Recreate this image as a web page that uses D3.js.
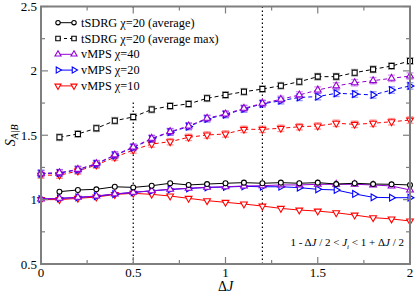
<!DOCTYPE html>
<html>
<head>
<meta charset="utf-8">
<script src="https://cdn.jsdelivr.net/npm/d3@7"></script>
<style>
    body { margin: 0; background: #fff; }
    svg { display: block; }
    text { font-family: 'Liberation Serif', 'DejaVu Serif', serif; }
</style>
</head>
<body>
<div id="chart"></div>
<script>
//
// DATA
//
const deltaJ = [0, 0.1, 0.2, 0.3, 0.4, 0.5, 0.6, 0.7, 0.8, 0.9, 1.0,
    1.1, 1.2, 1.3, 1.4, 1.5, 1.6, 1.7, 1.8, 1.9, 2.0]

// tSDRG has no point at deltaJ = 0
const tsdrgAvg = [null, 1.062, 1.075, 1.08, 1.10, 1.095, 1.108, 1.127, 1.114, 1.121, 1.127,
    1.132, 1.127, 1.132, 1.127, 1.132, 1.121, 1.127, 1.121, 1.119, 1.114]
const tsdrgMax = [null, 1.484, 1.51, 1.554, 1.613, 1.642, 1.70, 1.727, 1.743, 1.787, 1.813,
    1.838, 1.859, 1.885, 1.916, 1.955, 1.955, 1.986, 2.012, 2.038, 2.077]

const vmps40 = [1.005, 1.01, 1.018, 1.028, 1.044, 1.057, 1.069, 1.08, 1.088, 1.096, 1.10,
    1.106, 1.108, 1.114, 1.114, 1.119, 1.119, 1.119, 1.114, 1.106, 1.075]
const vmps40Max = [1.204, 1.209, 1.235, 1.28, 1.347, 1.408, 1.476, 1.528, 1.572, 1.632, 1.665,
    1.709, 1.748, 1.779, 1.813, 1.851, 1.883, 1.908, 1.924, 1.942, 1.96]

const vmps20 = [1.004, 1.009, 1.017, 1.027, 1.043, 1.056, 1.068, 1.079, 1.087, 1.094, 1.098,
    1.103, 1.10, 1.10, 1.093, 1.08, 1.075, 1.044, 1.018, 1.015, 1.015]
const vmps20Max = [1.202, 1.206, 1.232, 1.277, 1.344, 1.404, 1.472, 1.524, 1.567, 1.627, 1.66,
    1.704, 1.744, 1.768, 1.794, 1.80, 1.826, 1.82, 1.813, 1.851, 1.883]

const vmps10 = [1.0, 1.0, 1.01, 1.02, 1.04, 1.049, 1.041, 1.028, 1.01, 0.992, 0.979,
    0.966, 0.95, 0.932, 0.919, 0.911, 0.898, 0.88, 0.86, 0.85, 0.834]
const vmps10Max = [1.19, 1.19, 1.222, 1.269, 1.329, 1.385, 1.432, 1.45, 1.484, 1.502, 1.51,
    1.546, 1.546, 1.554, 1.566, 1.572, 1.593, 1.585, 1.593, 1.605, 1.618]

// half height of the error bars on the "max" curves
const errMax = 0.025

const legendLabels = ['tSDRG \u03c7=20 (average)', 'tSDRG \u03c7=20 (average max)',
    'vMPS \u03c7=40', 'vMPS \u03c7=20', 'vMPS \u03c7=10']

const xTicks = [0, 0.5, 1, 1.5, 2]
const yTicks = [0.5, 1, 1.5, 2, 2.5]
const markerLines = [0.5, 1.2]

//
// GLOBALS
//
const width = 415
const height = 294
const margin = { top: 6.5, right: 5, bottom: 30, left: 41 }
const frameColor = '#7f7f7f'

const series = [
    { name: legendLabels[0], color: '#000', shape: 'circle' },
    { name: legendLabels[1], color: '#000', shape: 'square', dashed: true },
    { name: legendLabels[2], color: '#9400d3', shape: 'up' },
    { name: legendLabels[3], color: '#0000ff', shape: 'right' },
    { name: legendLabels[4], color: '#ff0000', shape: 'down' }
]

const x = d3.scaleLinear().domain([0, 2]).range([margin.left, width - margin.right])
const y = d3.scaleLinear().domain([0.5, 2.5]).range([height - margin.bottom, margin.top])

const svg = d3.select('#chart')
    .append('svg')
    .attr('width', width)
    .attr('height', height)

// symbol path for a given shape (k scales the area)
const symbolPath = (shape, k = 1) => {
    if (shape === 'circle') return d3.symbol(d3.symbolCircle, 19 * k)()
    if (shape === 'square') return d3.symbol(d3.symbolSquare, 25 * k)()
    return d3.symbol(d3.symbolTriangle, 20 * k)()
}
const rotation = { up: 0, right: 90, down: 180 }

const drawMarkers = (group, pts, shape, color) => {
    group.selectAll(null)
        .data(pts)
        .join('path')
        .attr('d', symbolPath(shape))
        .attr('transform', d => `translate(${x(d[0])},${y(d[1])}) rotate(${rotation[shape] || 0})`)
        .attr('fill', '#fff')
        .attr('stroke', color)
        .attr('stroke-width', 1.1)
}

const pointsOf = vals => deltaJ.map((d, i) => [d, vals[i]]).filter(p => p[1] != null)

const line = d3.line().x(d => x(d[0])).y(d => y(d[1]))

const drawCurve = (vals, color, shape, dashed, err) => {
    const g = svg.append('g')
    const pts = pointsOf(vals)
    if (err) {
        // light error bars behind the curve
        const eb = g.append('g').attr('stroke', color).attr('stroke-opacity', 0.4).attr('stroke-width', 1.3)
        pts.forEach(p => {
            const y0 = y(p[1] - err)
            const y1 = y(p[1] + err)
            const cx = x(p[0])
            eb.append('line').attr('x1', cx).attr('x2', cx).attr('y1', y0).attr('y2', y1)
            eb.append('line').attr('x1', cx - 3.5).attr('x2', cx + 3.5).attr('y1', y0).attr('y2', y0)
            eb.append('line').attr('x1', cx - 3.5).attr('x2', cx + 3.5).attr('y1', y1).attr('y2', y1)
        })
    }
    g.append('path')
        .attr('d', line(pts))
        .attr('fill', 'none')
        .attr('stroke', color)
        .attr('stroke-width', 1)
        .attr('stroke-dasharray', dashed ? '4,3' : null)
    drawMarkers(g, pts, shape, color)
}

// 1) vertical dotted guides
markerLines.forEach(v => {
    svg.append('line')
        .attr('x1', x(v)).attr('x2', x(v))
        .attr('y1', y(2.5)).attr('y2', y(0.5))
        .attr('stroke', '#000')
        .attr('stroke-width', 1.2)
        .attr('stroke-dasharray', '1.5,2.5')
})

// 2) opaque legend background (hides the dotted guide behind it, curves stay on top)
svg.append('rect')
    .attr('x', 46).attr('y', 8)
    .attr('width', 194).attr('height', 92)
    .attr('fill', '#fff')

// 3) curves, drawn from the last legend entry to the first
drawCurve(vmps10Max, '#ff0000', 'down', true, errMax)
drawCurve(vmps20Max, '#0000ff', 'right', true, errMax)
drawCurve(vmps40Max, '#9400d3', 'up', true, errMax)
drawCurve(tsdrgMax, '#000', 'square', true, errMax)
drawCurve(vmps10, '#ff0000', 'down', false)
drawCurve(vmps20, '#0000ff', 'right', false)
drawCurve(vmps40, '#9400d3', 'up', false)
drawCurve(tsdrgAvg, '#000', 'circle', false)

// 4) frame and ticks on all four sides
const frame = svg.append('g').attr('stroke', frameColor)
const minorX = d3.range(0, 2.001, 0.25)
const minorY = d3.range(0.5, 2.501, 0.25)
minorX.forEach(v => {
    const len = xTicks.includes(v) ? 7 : 4
    frame.append('line').attr('x1', x(v)).attr('x2', x(v)).attr('y1', y(0.5)).attr('y2', y(0.5) - len)
    frame.append('line').attr('x1', x(v)).attr('x2', x(v)).attr('y1', y(2.5)).attr('y2', y(2.5) + len)
})
minorY.forEach(v => {
    const len = yTicks.includes(v) ? 7 : 4
    frame.append('line').attr('x1', x(0)).attr('x2', x(0) + len).attr('y1', y(v)).attr('y2', y(v))
    frame.append('line').attr('x1', x(2)).attr('x2', x(2) - len).attr('y1', y(v)).attr('y2', y(v))
})
frame.selectAll('line').attr('stroke-width', 1.2)
frame.append('rect')
    .attr('x', x(0)).attr('y', y(2.5))
    .attr('width', x(2) - x(0)).attr('height', y(0.5) - y(2.5))
    .attr('fill', 'none')
    .attr('stroke-width', 2)

// 5) tick labels
svg.append('g')
    .selectAll('text')
    .data(xTicks)
    .join('text')
    .attr('x', d => x(d))
    .attr('y', height - margin.bottom + 13)
    .attr('text-anchor', 'middle')
    .style('font-size', '13px')
    .text(d => d)
svg.append('g')
    .selectAll('text')
    .data(yTicks)
    .join('text')
    .attr('x', margin.left - 4)
    .attr('y', d => y(d) + 4.5)
    .attr('text-anchor', 'end')
    .style('font-size', '13px')
    .text(d => d)

// 6) axis titles
const xTitle = svg.append('text')
    .attr('x', x(1))
    .attr('y', height - 3)
    .attr('text-anchor', 'middle')
    .style('font-size', '14px')
xTitle.append('tspan').text('\u0394')
xTitle.append('tspan').style('font-style', 'italic').text('J')

const yTitle = svg.append('text')
    .attr('transform', `translate(15,${y(1.5)}) rotate(-90)`)
    .attr('text-anchor', 'middle')
    .style('font-size', '14px')
yTitle.append('tspan').style('font-style', 'italic').text('S')
yTitle.append('tspan').attr('dy', 3).style('font-size', '10px').style('font-style', 'italic').text('A|B')

// 7) annotation
const note = svg.append('text')
    .attr('x', x(2) - 6)
    .attr('y', 246)
    .attr('text-anchor', 'end')
    .style('font-size', '11px')
note.append('tspan').text('1 - \u0394')
note.append('tspan').style('font-style', 'italic').text('J')
note.append('tspan').text(' / 2 < ')
note.append('tspan').style('font-style', 'italic').text('J')
note.append('tspan').attr('dy', 3).style('font-size', '7px').style('font-style', 'italic').text('i')
note.append('tspan').attr('dy', -3).text(' < 1 + \u0394')
note.append('tspan').style('font-style', 'italic').text('J')
note.append('tspan').text(' / 2')

// 8) legend
const legend = svg.append('g')
series.forEach((s, i) => {
    const ly = 22.7 + i * 15.8
    const g = legend.append('g')
    g.append('line')
        .attr('x1', 58).attr('x2', 74)
        .attr('y1', ly).attr('y2', ly)
        .attr('stroke', s.color)
        .attr('stroke-dasharray', s.dashed ? '3,3' : null)
    g.selectAll(null)
        .data([58, 74])
        .join('path')
        .attr('d', symbolPath(s.shape, 0.8))
        .attr('transform', d => `translate(${d},${ly}) rotate(${rotation[s.shape] || 0})`)
        .attr('fill', '#fff')
        .attr('stroke', s.color)
        .attr('stroke-width', 1.1)
    g.append('text')
        .attr('x', 81)
        .attr('y', ly + 4)
        .style('font-size', '12.3px')
        .text(s.name)
})
</script>
</body>
</html>
